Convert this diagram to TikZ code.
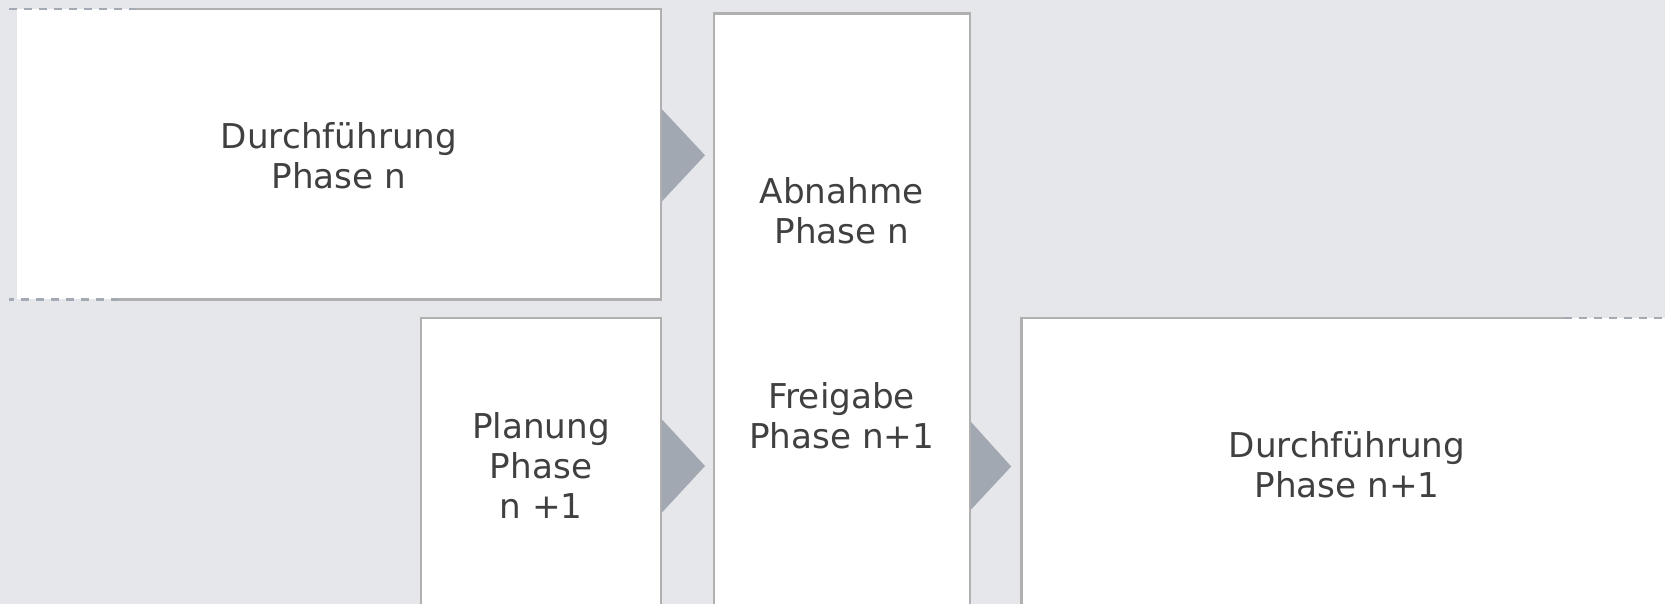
\documentclass[tikz,border=0pt]{standalone}
\usepackage{fontspec}
\setmainfont{DejaVu Sans}
\usetikzlibrary{calc}
\definecolor{bg}{HTML}{E6E7EB}
\definecolor{edge}{HTML}{B0B0B0}
\definecolor{dashc}{HTML}{A4AAB4}
\definecolor{tri}{HTML}{A2A8B2}
\definecolor{txt}{HTML}{404040}
\begin{document}
\begin{tikzpicture}[x=1pt,y=-1pt,
  whitebox/.style={fill=white,inner sep=0pt,outer sep=0pt,anchor=north west},
  framebox/.style={whitebox,draw=edge,line width=2.4pt},
  edgeline/.style={draw=edge,line width=2.4pt},
  dashline/.style={draw=dashc,line width=2.4pt,dash pattern=on 8pt off 7pt},
  lbl/.style={text=txt,font=\fontsize{34.2}{40}\selectfont,align=center,inner sep=0pt},
  chev/.style={fill=tri}]
\fill[bg] (0,0) rectangle (1665,604);
\useasboundingbox (0,0) rectangle (1665,604);
\clip (0,0) rectangle (1665,604);

% boxes
\node[whitebox,minimum width=644pt,minimum height=290pt] (d1) at (17,9.3) {};
\node[framebox,minimum width=256pt,minimum height=700pt] (abn) at (713.7,13.7) {};
\node[framebox,minimum width=240.3pt,minimum height=400pt] (pl) at (420.7,318) {};
\node[whitebox,minimum width=700pt,minimum height=400pt] (d2) at (1021.3,317.8) {};

% texts
\node[lbl] (d1txt) at (339,156) {Durchführung\\Phase n};
\node[lbl] (abntxt) at (841.7,211) {Abnahme\\Phase n};
\node[lbl] (fgtxt) at (841.7,416) {Freigabe\\Phase n+1};
\node[lbl] (pltxt) at (541,466) {Planung\\Phase\\n +1};
\node[lbl] (d2txt) at (1347,465) {Durchführung\\Phase n+1};

% chevrons
\fill[chev] ($(d1.east)+(1,-45)$) -- ($(d1.east)+(44,1)$) -- ($(d1.east)+(1,47)$) -- cycle;
\fill[chev] ($(pl.east |- pltxt.center)+(1,-46.5)$) -- ($(pl.east |- pltxt.center)+(44,0)$) -- ($(pl.east |- pltxt.center)+(1,46.5)$) -- cycle;
\fill[chev] ($(abn.east |- d2txt.center)+(0,-44.5)$) -- ($(abn.east |- d2txt.center)+(41.5,1.5)$) -- ($(abn.east |- d2txt.center)+(0,46)$) -- cycle;

% open borders
\draw[edgeline] (136,9.3) -| (d1.south east) -- (119,299.3);
\draw[dashline] (9,9.3) -- (136,9.3);
\draw[dashline] (119,299.3) -- (9,299.3);
\draw[edgeline] (d2.south west) -- (d2.north west) -- (1564,317.8);
\draw[dashline] (1564,317.8) -- (1665,317.8);
\draw[edgeline] (abn.north east) -- (abn.south east);
\end{tikzpicture}
\end{document}
